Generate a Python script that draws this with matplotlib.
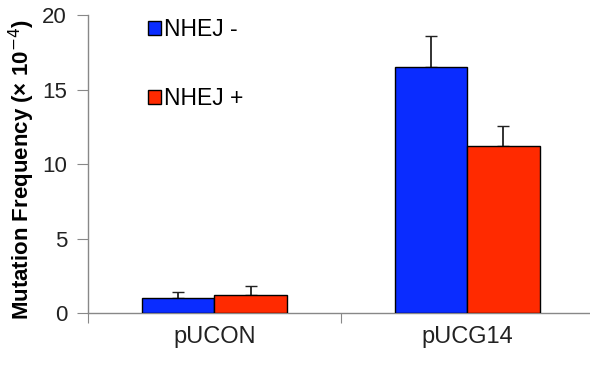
import numpy as np
import matplotlib
matplotlib.use("Agg")
import matplotlib.pyplot as plt

plt.rcParams['font.family'] = ['Liberation Sans', 'DejaVu Sans']

categories = ['pUCON', 'pUCG14']
series = ['NHEJ -', 'NHEJ +']
values_minus = [1.0, 16.5]
err_minus = [0.4, 2.1]
values_plus = [1.2, 11.2]
err_plus = [0.6, 1.35]
colors = ['#0a2cff', '#ff2a00']

fig = plt.figure(figsize=(5.9, 3.67), dpi=100)
ax = fig.add_axes([0.149, 0.147, 0.857, 0.812])

x = np.arange(len(categories)) + 0.5
w = 0.287
ax.bar(x - w / 2, values_minus, w, color=colors[0], edgecolor='black', linewidth=1.0,
       label=series[0], zorder=3)
ax.bar(x + w / 2, values_plus, w, color=colors[1], edgecolor='black', linewidth=1.0,
       label=series[1], zorder=3)
ax.errorbar(x - w / 2, values_minus, yerr=[np.zeros(2), err_minus], fmt='none', ecolor='#222222',
            elinewidth=1.3, capthick=1.0, capsize=4, zorder=2)
ax.errorbar(x + w / 2, values_plus, yerr=[np.zeros(2), err_plus], fmt='none', ecolor='#222222',
            elinewidth=1.3, capthick=1.0, capsize=4, zorder=2)

ax.set_xlim(0, 2)
ax.set_ylim(0, 20)
ax.set_yticks([0, 5, 10, 15, 20])
ax.set_xticks([0, 1, 2])
ax.set_xticklabels([])
ax.set_xticks(x, minor=True)
ax.set_xticklabels(categories, minor=True)
ax.tick_params(axis='x', which='minor', length=0, pad=9, labelsize=17, labelcolor='#222222')
ax.tick_params(axis='x', which='major', length=7, color='#888888', direction='out')
ax.tick_params(axis='y', length=8, color='#888888', direction='out', labelsize=16,
               labelcolor='#222222', pad=7)

for s in ['top', 'right']:
    ax.spines[s].set_visible(False)
for s in ['left', 'bottom']:
    ax.spines[s].set_color('#888888')
    ax.spines[s].set_linewidth(1.0)

ax.set_ylabel('Mutation Frequency (× 10$^{-4}$)', fontsize=16, fontweight='bold')
ax.yaxis.set_label_coords(-0.10, 0.483)

leg = ax.legend(loc='upper left', bbox_to_anchor=(0.118, 0.99), frameon=False, fontsize=16.5,
                handlelength=0.57, handleheight=0.55, handletextpad=0.15, labelspacing=2.0,
                borderaxespad=0, borderpad=0)

fig.savefig('out.png', dpi=100)
